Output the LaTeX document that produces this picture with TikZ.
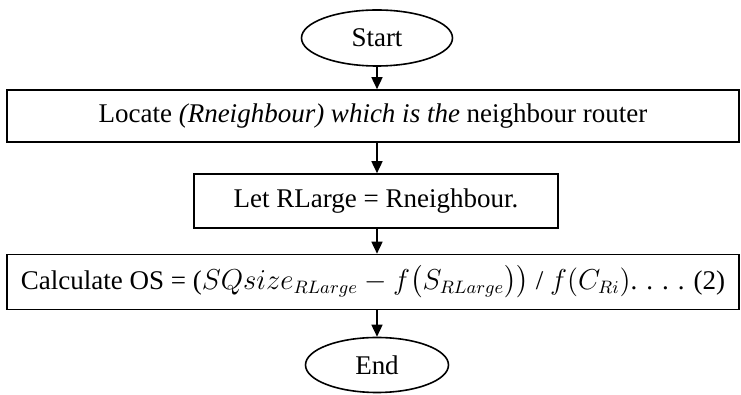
\documentclass[tikz,border=0pt]{standalone}
\usepackage{amsmath, amsfonts}
\usepackage{fontspec}
\setmainfont{Liberation Serif}
\usetikzlibrary{shapes.geometric, arrows.meta}

\tikzset{
  stepbox/.style = {draw, line width = 0.8pt, rectangle, inner sep = 0pt, font = \fontsize{13.5}{16}\selectfont},
  term/.style = {draw, line width = 0.8pt, ellipse, inner sep = 0pt, font = \fontsize{13.5}{16}\selectfont},
  flow/.style = {line width = 0.8pt, -{Triangle[length = 6pt, width = 5.5pt]}}
}

\begin{document}
\begin{tikzpicture}[x = 0.5pt, y = -0.5pt]
\useasboundingbox (0, 0) rectangle (741, 395);
\node [term, minimum width = 75.5pt, minimum height = 28pt] (start) at (377, 38) {Start};
\node [stepbox, minimum width = 366pt, minimum height = 26pt] (locate) at (373, 116)
  {Locate \textit{(Rneighbour) which is the} neighbour router};
\node [stepbox, minimum width = 182pt, minimum height = 27pt] (let) at (376, 201) {Let RLarge = Rneighbour.};
\node [stepbox, minimum width = 366pt, minimum height = 27.5pt] (calc) at (373, 282)
  {Calculate OS = ($SQsize_{RLarge} - f\bigl(S_{RLarge}\bigr)\bigr)$ / $f(C_{Ri})$. . . . (2)};
\node [term, minimum width = 71.5pt, minimum height = 27.5pt] (end) at (377, 365) {End};
\draw [flow] (start.south) -- (start.south |- locate.north);
\draw [flow] (start.south |- locate.south) -- (start.south |- let.north);
\draw [flow] (start.south |- let.south) -- (start.south |- calc.north);
\draw [flow] (start.south |- calc.south) -- (end.north);
\end{tikzpicture}
\end{document}
